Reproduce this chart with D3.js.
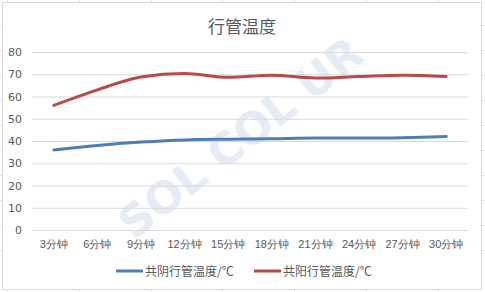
<!DOCTYPE html>
<html>
<head>
<meta charset="utf-8">
<script src="https://cdn.jsdelivr.net/npm/d3@7"></script>
<style>
  body { margin: 0; background: #fff; }
  svg { display: block; font-family: "Noto Sans CJK SC", "DejaVu Sans", sans-serif; }
</style>
</head>
<body>
<svg id="chart"></svg>
<script>
// data
const categories = ['3分钟', '6分钟', '9分钟', '12分钟', '15分钟', '18分钟', '21分钟', '24分钟', '27分钟', '30分钟'];
const yinValues = [36, 38, 39.5, 40.5, 40.8, 41, 41.3, 41.3, 41.5, 42];
const yangValues = [56, 63, 68.8, 70.3, 68.6, 69.6, 68.3, 69, 69.6, 69];
const seriesNames = ['共阴行管温度/℃', '共阳行管温度/℃'];
const yTicks = [0, 10, 20, 30, 40, 50, 60, 70, 80];

const W = 485, H = 292;
const margin = { top: 52, right: 17, bottom: 62, left: 32 },
      width = W - margin.left - margin.right,
      height = H - margin.top - margin.bottom;

const colors = ['#4f7db8', '#b94a48'];

const svg = d3.select("#chart").attr("width", W).attr("height", H);

// spreadsheet grid behind the chart
const bg = svg.append("g").attr("stroke", "#e4e4e4").attr("stroke-width", 1);
[7, 79, 151, 222, 294, 366, 438].forEach(x => bg.append("line").attr("x1", x + 0.5).attr("x2", x + 0.5).attr("y1", 0).attr("y2", H));
[25, 50, 75, 100, 125, 150, 175, 200, 225, 250].forEach(y => bg.append("line").attr("x1", 0).attr("x2", W).attr("y1", y + 0.5).attr("y2", y + 0.5));

// chart frame
svg.append("rect")
   .attr("x", 2.5).attr("y", 2.5)
   .attr("width", 479).attr("height", 287)
   .attr("fill", "#fff")
   .attr("stroke", "#d9d9d9");

// watermark
svg.append("text")
   .attr("transform", "translate(250,150) rotate(-38)")
   .attr("text-anchor", "middle")
   .attr("font-family", "DejaVu Sans")
   .attr("font-weight", "bold")
   .attr("font-size", 44)
   .attr("fill", "#e6ecf6")
   .text("SOL COL  UR");

const g = svg.append("g").attr("transform", `translate(${margin.left},${margin.top})`);

// title
svg.append("text")
   .attr("x", 242).attr("y", 33)
   .attr("text-anchor", "middle")
   .attr("font-size", 17)
   .attr("fill", "#595959")
   .text("行管温度");

const x = d3.scaleBand().domain(categories).range([0, width]);
const y = d3.scaleLinear().domain([0, 80]).range([height, 0]);

// gridlines + y labels
const yAxis = g.append("g")
   .call(d3.axisLeft(y).tickValues(yTicks).tickSize(-width).tickPadding(10));
yAxis.select(".domain").remove();
yAxis.selectAll(".tick line").attr("stroke", "#d9d9d9");
yAxis.selectAll(".tick text").attr("fill", "#595959").attr("font-size", 11).attr("font-family", "DejaVu Sans, sans-serif");

// x labels
const xAxis = g.append("g")
   .attr("transform", `translate(0,${height})`)
   .call(d3.axisBottom(x).tickSize(0).tickPadding(10));
xAxis.select(".domain").attr("stroke", "#d9d9d9");
xAxis.selectAll(".tick text").attr("fill", "#595959").attr("font-size", 11);

// lines
const line = d3.line()
   .x((d, i) => x(categories[i]) + x.bandwidth() / 2)
   .y(d => y(d))
   .curve(d3.curveMonotoneX);

[yinValues, yangValues].forEach((vals, k) => {
  g.append("path")
   .datum(vals)
   .attr("fill", "none")
   .attr("stroke", colors[k])
   .attr("stroke-width", 3)
   .attr("stroke-linecap", "round")
   .attr("d", line);
});

// legend
const legendX = [116, 254];
seriesNames.forEach((name, k) => {
  const lg = svg.append("g").attr("transform", `translate(${legendX[k]},271)`);
  lg.append("line").attr("x1", 0).attr("x2", 27).attr("y1", 0).attr("y2", 0)
    .attr("stroke", colors[k]).attr("stroke-width", 3);
  lg.append("text").attr("x", 29).attr("y", 4.5)
    .attr("font-size", 12).attr("fill", "#595959")
    .text(name);
});
</script>
</body>
</html>
